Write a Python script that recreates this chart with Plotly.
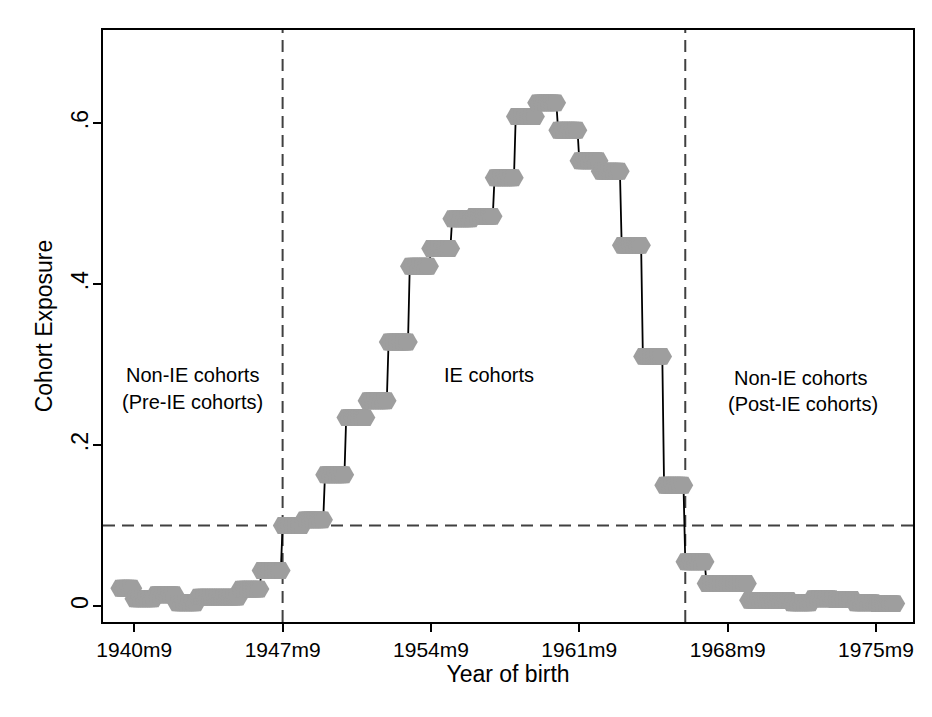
import plotly.graph_objects as go

# Cohort exposure by school cohort (Sep-Aug), Stata %tm months (0 = 1960m1)
cohort_start_month = [-240, -232, -220, -208, -196, -184, -172, -160,   # 1940m1 (partial), 1940m9 ... 1946m9
                      -148, -136, -124, -112, -100, -88, -76, -64, -52, -40,
                      -28, -16, -4, 8, 20, 32, 44, 56, 68,
                      80, 92, 104, 116, 128, 140, 152, 164, 176, 188]
cohort_end_month = [-233] + [m + 11 for m in cohort_start_month[1:]]
cohort_exposure = [0.022, 0.009, 0.014, 0.004, 0.011, 0.011, 0.021, 0.044,
                   0.100, 0.107, 0.163, 0.234, 0.255, 0.328, 0.422, 0.444, 0.481, 0.484, 0.532,
                   0.608, 0.625, 0.591, 0.553, 0.540, 0.448, 0.310, 0.150,
                   0.055, 0.028, 0.028, 0.007, 0.007, 0.004, 0.009, 0.008, 0.004, 0.003]

tick_vals = [-232, -148, -64, 20, 104, 188]
tick_text = ["1940m9", "1947m9", "1954m9", "1961m9", "1968m9", "1975m9"]
ytick_vals = [0, 0.2, 0.4, 0.6]
ytick_text = ["0", ".2", ".4", ".6"]

ie_start = -148   # 1947m9
ie_end = 80       # 1966m9
threshold = 0.1

# monthly series: each month carries its cohort's value
months, values = [], []
for s, e, v in zip(cohort_start_month, cohort_end_month, cohort_exposure):
    for m in range(s, e + 1):
        months.append(m)
        values.append(v)

FONT = "Liberation Sans, Arial, Helvetica, sans-serif"

fig = go.Figure()
fig.add_trace(go.Scatter(
    x=months, y=values, mode="lines+markers",
    line=dict(color="black", width=1.8),
    marker=dict(symbol="hexagon2", size=19.5, color="#9e9e9e", line=dict(width=0)),
    showlegend=False, hoverinfo="x+y"))

dash = "12px,7px"
dcol = "#404040"
fig.add_shape(type="line", xref="x", yref="paper", x0=ie_start, x1=ie_start, y0=0, y1=1,
              line=dict(color=dcol, width=2, dash=dash), layer="below")
fig.add_shape(type="line", xref="x", yref="paper", x0=ie_end, x1=ie_end, y0=0, y1=1,
              line=dict(color=dcol, width=2, dash=dash), layer="below")
fig.add_shape(type="line", xref="paper", yref="y", x0=0, x1=1, y0=threshold, y1=threshold,
              line=dict(color=dcol, width=2, dash=dash), layer="below")

ann_font = dict(family=FONT, size=20, color="black")
anns = [
    ("Non-IE cohorts", 0.1099, 0.4172),
    ("(Pre-IE cohorts)", 0.1099, 0.3716),
    ("IE cohorts", 0.4765, 0.4172),
    ("Non-IE cohorts", 0.861, 0.4122),
    ("(Post-IE cohorts)", 0.864, 0.3682),
]
for t, ax_, ay_ in anns:
    fig.add_annotation(text=t, xref="paper", yref="paper", x=ax_, y=ay_,
                       showarrow=False, font=ann_font, xanchor="center", yanchor="middle")

# page body has an 8px margin: shrink the figure so the plot lands where the reference has it
fig.update_layout(
    width=924, height=709,
    margin=dict(l=95, r=19, t=22, b=95),
    paper_bgcolor="white", plot_bgcolor="white",
    font=dict(family=FONT, size=21, color="black"),
    xaxis=dict(range=[-249.7, 208.95], tickmode="array", tickvals=tick_vals, ticktext=tick_text,
               ticks="outside", ticklen=8, tickwidth=1.5, tickcolor="black",
               showgrid=False, zeroline=False, showline=True, linecolor="black", linewidth=2,
               mirror=True, tickfont=dict(size=21),
               title=dict(text="Year of birth", font=dict(size=23), standoff=4)),
    yaxis=dict(range=[-0.0199, 0.7155], tickmode="array", tickvals=ytick_vals, ticktext=ytick_text,
               ticks="outside", ticklen=8, tickwidth=1.5, tickcolor="black", tickangle=-90,
               ticklabelstandoff=-4,
               showgrid=False, zeroline=False, showline=True, linecolor="black", linewidth=2,
               mirror=True, tickfont=dict(size=23),
               title=dict(text="Cohort Exposure", font=dict(size=23), standoff=8)),
)

fig.write_html("out.html")
